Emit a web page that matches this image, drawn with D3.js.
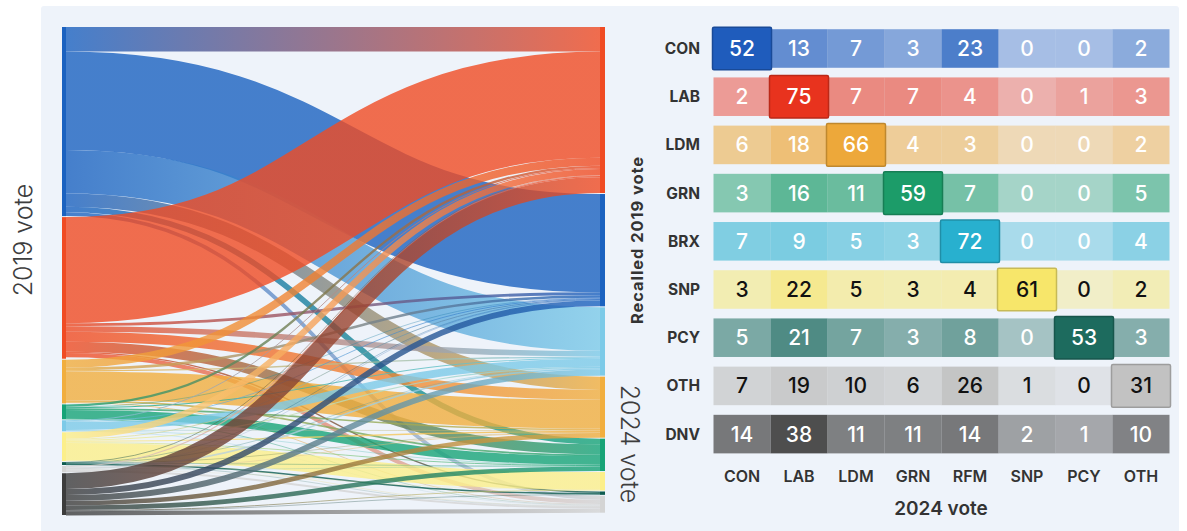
<!DOCTYPE html>
<html>
<head>
<meta charset="utf-8">
<script src="https://cdn.jsdelivr.net/npm/d3@7"></script>
<style>
  body { margin: 0; background: #ffffff; }
  svg { display: block; font-family: "Inter", "Open Sans", sans-serif; }
</style>
</head>
<body>
<svg id="chart"></svg>
<script>
// recalled 2019 vote (rows) -> 2024 vote (columns), row percentages
const rows2019 = ['CON', 'LAB', 'LDM', 'GRN', 'BRX', 'SNP', 'PCY', 'OTH', 'DNV'];
const cols2024 = ['CON', 'LAB', 'LDM', 'GRN', 'RFM', 'SNP', 'PCY', 'OTH'];
const sankeyOrder2024 = ['LAB', 'CON', 'RFM', 'LDM', 'GRN', 'SNP', 'PCY', 'OTH'];
const share2019 = [39.4, 29.5, 9.1, 3.1, 2.3, 6.0, 0.6, 1.3, 8.7];
const conRow = [52, 13, 7, 3, 23, 0, 0, 2];
const labRow = [2, 75, 7, 7, 4, 0, 1, 3];
const ldmRow = [6, 18, 66, 4, 3, 0, 0, 2];
const grnRow = [3, 16, 11, 59, 7, 0, 0, 5];
const brxRow = [7, 9, 5, 3, 72, 0, 0, 4];
const snpRow = [3, 22, 5, 3, 4, 61, 0, 2];
const pcyRow = [5, 21, 7, 3, 8, 0, 53, 3];
const othRow = [7, 19, 10, 6, 26, 1, 0, 31];
const dnvRow = [14, 38, 11, 11, 14, 2, 1, 10];
const matrix = [conRow, labRow, ldmRow, grnRow, brxRow, snpRow, pcyRow, othRow, dnvRow];
// which column counts as "same party" for each row (null = none)
const sameParty = ['CON', 'LAB', 'LDM', 'GRN', 'RFM', 'SNP', 'PCY', 'OTH', null];

const flowColor = {
    CON: '#1b62c0', LAB: '#f04b23', LDM: '#f1ae3e', GRN: '#17a477', BRX: '#7ccae8',
    RFM: '#7ccae8', SNP: '#fcef8a', PCY: '#0e5c50', OTH: '#d4d4d4', DNV: '#3c3c3c'
};
const heatColor = {
    CON: '#1f5cbc', LAB: '#e8331e', LDM: '#eda83a', GRN: '#1c9c69', BRX: '#28b0cf',
    SNP: '#f7e66a', PCY: '#1d6b5e', OTH: '#c2c2c2', DNV: '#4e4e4e'
};
const darkText = ['SNP', 'OTH'];

const W = 1187, H = 531;
const svg = d3.select('#chart').attr('width', W).attr('height', H);

svg.append('rect')
    .attr('x', 41).attr('y', 6)
    .attr('width', 1138).attr('height', 530)
    .attr('rx', 3)
    .attr('fill', '#eef3fa');

// ---------- sankey (hand rolled, d3-sankey is not in the bundle) ----------
const sk = {left: 62, right: 605, top: 27, bottom: 515, nodeW: [4, 5], pad: 1};

const leftNodes = rows2019.map((p, i) => ({id: p, side: 0, idx: i, value: share2019[i]}));
const rightNodes = sankeyOrder2024.map((p, i) => ({id: p, side: 1, idx: i, value: 0}));
const rightById = new Map(rightNodes.map(n => [n.id, n]));

const links = [];
rows2019.forEach((src, i) => {
    cols2024.forEach((tgt, j) => {
        const v = share2019[i] * matrix[i][j] / 100;
        if (v > 0) links.push({source: leftNodes[i], target: rightById.get(tgt), value: v});
    });
});
rightNodes.forEach(n => { n.value = d3.sum(links.filter(l => l.target === n), l => l.value); });

const total = d3.max([d3.sum(leftNodes, d => d.value), d3.sum(rightNodes, d => d.value)]);
const hScale = d3.scaleLinear()
    .domain([0, total])
    .range([0, (sk.bottom - sk.top) - sk.pad * (leftNodes.length - 1)]);

function stack(nodes, x0, x1) {
    let y = sk.top;
    nodes.forEach(n => {
        n.x0 = x0; n.x1 = x1;
        n.y0 = y; n.y1 = y + hScale(n.value);
        y = n.y1 + sk.pad;
    });
}
stack(leftNodes, sk.left, sk.left + sk.nodeW[0]);
stack(rightNodes, sk.right - sk.nodeW[1], sk.right);

links.forEach(l => { l.width = hScale(l.value); });
leftNodes.forEach(n => {
    let y = n.y0;
    links.filter(l => l.source === n)
        .sort((a, b) => a.target.idx - b.target.idx)
        .forEach(l => { l.ys = y + l.width / 2; y += l.width; });
});
rightNodes.forEach(n => {
    let y = n.y0;
    links.filter(l => l.target === n)
        .sort((a, b) => a.source.idx - b.source.idx)
        .forEach(l => { l.yt = y + l.width / 2; y += l.width; });
});

const defs = svg.append('defs');
links.forEach((l, i) => {
    const g = defs.append('linearGradient')
        .attr('id', 'lg' + i)
        .attr('gradientUnits', 'userSpaceOnUse')
        .attr('x1', l.source.x1).attr('x2', l.target.x0)
        .attr('y1', 0).attr('y2', 0);
    g.append('stop').attr('offset', '0%').attr('stop-color', flowColor[l.source.id]);
    g.append('stop').attr('offset', '100%').attr('stop-color', flowColor[l.target.id]);
    l.grad = 'lg' + i;
});

const linkPath = d3.linkHorizontal()
    .source(d => [d.source.x1, d.ys])
    .target(d => [d.target.x0, d.yt]);

svg.append('g')
    .attr('fill', 'none')
    .selectAll('path')
    .data(links)
    .join('path')
    .attr('d', linkPath)
    .attr('stroke', d => `url(#${d.grad})`)
    .attr('stroke-opacity', 0.8)
    .attr('stroke-width', d => Math.max(0.4, d.width));

svg.append('g')
    .selectAll('rect')
    .data(leftNodes.concat(rightNodes))
    .join('rect')
    .attr('x', d => d.x0)
    .attr('y', d => d.y0)
    .attr('width', d => d.x1 - d.x0)
    .attr('height', d => Math.max(0.5, d.y1 - d.y0))
    .attr('fill', d => flowColor[d.id]);

svg.append('text')
    .attr('transform', 'translate(32,240) rotate(-90)')
    .attr('text-anchor', 'middle')
    .attr('font-size', 25)
    .attr('font-weight', 300)
    .attr('fill', '#3d3d3d')
    .text('2019 vote');

svg.append('text')
    .attr('transform', 'translate(621,444) rotate(90)')
    .attr('text-anchor', 'middle')
    .attr('font-size', 25)
    .attr('font-weight', 300)
    .attr('fill', '#3d3d3d')
    .text('2024 vote');

// ---------- heatmap ----------
const x = d3.scaleBand().domain(cols2024).range([713.5, 1169.5]);
const y = d3.scaleBand().domain(rows2019).range([24.4, 458.2]).paddingInner(0.2).paddingOuter(0.1);

const heat = svg.append('g');
rows2019.forEach((r, i) => {
    const op = d3.scaleSqrt().domain([0, d3.max(matrix[i])]).range([0.35, 1]);
    const cells = cols2024.map((c, j) => ({row: r, col: c, value: matrix[i][j], hi: sameParty[i] === c}));
    const g = heat.append('g');
    // plain cells first, highlighted one on top
    cells.sort((a, b) => a.hi - b.hi).forEach(d => {
        const pad = d.hi ? 1 : 0, padY = d.hi ? 2 : 0;
        g.append('rect')
            .attr('x', x(d.col) - pad)
            .attr('y', y(r) - padY)
            .attr('width', x.bandwidth() + pad * 2)
            .attr('height', y.bandwidth() + padY * 2)
            .attr('fill', heatColor[r])
            .attr('fill-opacity', d.hi ? 1 : op(d.value))
            .attr('stroke', d.hi ? d3.color(heatColor[r]).darker(0.6) : null)
            .attr('stroke-width', d.hi ? 1.5 : 0)
            .attr('rx', d.hi ? 1.5 : 0);
        g.append('text')
            .attr('x', x(d.col) + x.bandwidth() / 2)
            .attr('y', y(r) + y.bandwidth() / 2)
            .attr('dy', '0.36em')
            .attr('text-anchor', 'middle')
            .attr('font-size', 21)
            .attr('font-weight', 500)
            .attr('fill', darkText.includes(r) ? '#111111' : '#ffffff')
            .text(d.value);
    });
});

heat.append('g')
    .selectAll('text')
    .data(rows2019)
    .join('text')
    .attr('x', 700)
    .attr('y', d => y(d) + y.bandwidth() / 2)
    .attr('dy', '0.36em')
    .attr('text-anchor', 'end')
    .attr('font-size', 15.5)
    .attr('font-weight', 700)
    .attr('fill', '#333333')
    .text(d => d);

heat.append('g')
    .selectAll('text')
    .data(cols2024)
    .join('text')
    .attr('x', d => x(d) + x.bandwidth() / 2)
    .attr('y', 482)
    .attr('text-anchor', 'middle')
    .attr('font-size', 16)
    .attr('font-weight', 600)
    .attr('fill', '#333333')
    .text(d => d);

svg.append('text')
    .attr('x', 941).attr('y', 515)
    .attr('text-anchor', 'middle')
    .attr('font-size', 19)
    .attr('font-weight', 600)
    .attr('fill', '#333333')
    .text('2024 vote');

svg.append('text')
    .attr('transform', 'translate(643,240) rotate(-90)')
    .attr('text-anchor', 'middle')
    .attr('font-size', 16.5)
    .attr('font-weight', 700)
    .attr('letter-spacing', 0.9)
    .attr('fill', '#333333')
    .text('Recalled 2019 vote');
</script>
</body>
</html>
